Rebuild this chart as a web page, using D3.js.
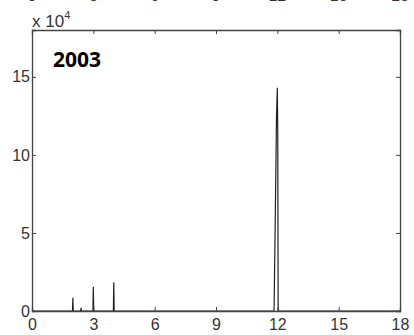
<!DOCTYPE html>
<html>
<head>
<meta charset="utf-8">
<script src="https://d3js.org/d3.v7.min.js"></script>
<style>
  body { margin: 0; background: #fff; }
  svg { display: block; }
  text { font-family: "Liberation Sans", Arial, sans-serif; }
</style>
</head>
<body>
<script>
// series: position (x) and count (y), zero between spikes
var xVals = [0, 1.98, 2, 2.02, 2.38, 2.4, 2.42, 2.98, 3, 3.02, 3.98, 4, 4.02, 11.84, 11.9, 11.96, 12, 12.02, 12.04, 18];
var yVals = [0, 0, 8500, 0, 0, 2000, 0, 0, 15600, 0, 0, 18400, 0, 0, 60000, 125000, 143000, 115000, 0, 0];
var xTicks = [0, 3, 6, 9, 12, 15, 18];
var yTicks = [0, 5, 10, 15];   // in units of 10^4
var panelTitle = "2003";

var width = 414, height = 335;
var margin = {top: 30, right: 14, bottom: 24, left: 32};

var svg = d3.select("body").append("svg")
  .attr("width", width)
  .attr("height", height);

var x = d3.scaleLinear().domain([0, 18]).range([margin.left, width - margin.right]);
var y = d3.scaleLinear().domain([0, 180000]).range([height - margin.bottom, margin.top]);

// leftover tick labels from the panel above, cut off by the top edge
svg.append("g").selectAll("text")
  .data(xTicks)
  .enter().append("text")
  .attr("x", function(d) { return x(d); })
  .attr("y", 0.5)
  .attr("text-anchor", "middle")
  .style("font-size", "16px")
  .style("fill", "#333")
  .text(function(d) { return d; });

// the line
var line = d3.line()
  .x(function(d, i) { return x(xVals[i]); })
  .y(function(d) { return y(d); });

svg.append("path")
  .datum(yVals)
  .attr("d", line)
  .attr("fill", "none")
  .attr("stroke", "#222")
  .attr("stroke-width", 1.2);

// axes with inward ticks, on all four sides
var xAx = d3.axisBottom(x).tickValues(xTicks).tickSize(-4).tickPadding(8);
var yAx = d3.axisLeft(y).tickValues(yTicks.map(function(d) { return d * 1e4; }))
  .tickFormat(function(d) { return d / 1e4; }).tickSize(-4).tickPadding(2);

var gx = svg.append("g")
  .attr("transform", "translate(0," + (height - margin.bottom) + ")")
  .call(xAx);
var gy = svg.append("g")
  .attr("transform", "translate(" + margin.left + ",0)")
  .call(yAx);
var gxTop = svg.append("g")
  .attr("transform", "translate(0," + margin.top + ")")
  .call(d3.axisTop(x).tickValues(xTicks).tickSize(-4).tickFormat(""));
var gyRight = svg.append("g")
  .attr("transform", "translate(" + (width - margin.right) + ",0)")
  .call(d3.axisRight(y).tickValues(yTicks.map(function(d) { return d * 1e4; })).tickSize(-4).tickFormat(""));

[gx, gy, gxTop, gyRight].forEach(function(g) {
  g.select(".domain").attr("stroke", "#444").attr("stroke-width", 1.3);
  g.selectAll(".tick line").attr("stroke", "#444");
  g.selectAll(".tick text")
    .style("font-family", "Liberation Sans, Arial, sans-serif")
    .style("font-size", "16px")
    .style("fill", "#333");
});

// exponent label
var ex = svg.append("text")
  .attr("x", margin.left)
  .attr("y", 27)
  .style("font-size", "17px")
  .style("fill", "#333");
ex.append("tspan").text("x 10");
ex.append("tspan").attr("dy", -8).style("font-size", "11px").text("4");

// panel title
svg.append("text")
  .attr("x", 53)
  .attr("y", 67)
  .style("font-family", "'Open Sans', sans-serif")
  .style("font-weight", "bold")
  .style("font-size", "21px")
  .style("fill", "#000")
  .text(panelTitle);
</script>
</body>
</html>
